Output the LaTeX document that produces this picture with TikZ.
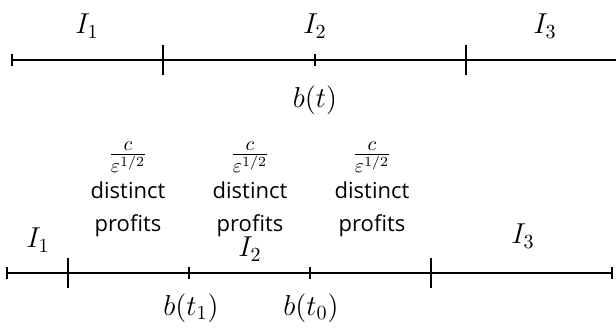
\documentclass[tikz,border=0pt]{standalone}
\usepackage{fontspec}
\newfontfamily\labelfont{Open Sans}
\begin{document}
\begin{tikzpicture}[x=0.5pt,y=-0.5pt,
  axis/.style={line width=1.2pt},
  mathlbl/.style={inner sep=0pt,font=\Large},
  wordlbl/.style={inner sep=0pt,font=\labelfont\fontsize{11}{13}\selectfont},
  fraclbl/.style={inner sep=0pt,font=\Large}]
\useasboundingbox (0,0) rectangle (616,328);
% ---------- top line ----------
\coordinate (ta) at (12,60);
\coordinate (tb) at (163,60);
\coordinate (tc) at (315,60);
\coordinate (td) at (466,60);
\coordinate (te) at (618,60);
\draw[axis] (ta) -- (te);
\draw[axis] ([yshift=3pt]ta) -- ([yshift=-3pt]ta);
\draw[axis] ([yshift=3pt]te) -- ([yshift=-3pt]te);
\draw[axis] ([yshift=7.5pt]tb) -- ([yshift=-7.5pt]tb);
\draw[axis] ([yshift=7.5pt]td) -- ([yshift=-7.5pt]td);
\draw[axis] ([yshift=3pt]tc) -- ([yshift=-3pt]tc);
\node[mathlbl] (tI1) at (87,26) {$I_1$};
\node[mathlbl] (tI2) at (315,26) {$I_2$};
\node[mathlbl] (tI3) at (545,26) {$I_3$};
\node[mathlbl] (bt) at (315,100) {$b(t)$};
% ---------- bottom line ----------
\coordinate (ba) at (7,273);
\coordinate (bb) at (68,273);
\coordinate (bc) at (189,273);
\coordinate (bd) at (310,273);
\coordinate (be) at (431,273);
\coordinate (bf) at (612,273);
\draw[axis] (ba) -- (bf);
\draw[axis] ([yshift=3pt]ba) -- ([yshift=-3pt]ba);
\draw[axis] ([yshift=3pt]bf) -- ([yshift=-3pt]bf);
\draw[axis] ([yshift=7.5pt]bb) -- ([yshift=-7.5pt]bb);
\draw[axis] ([yshift=7.5pt]be) -- ([yshift=-7.5pt]be);
\draw[axis] ([yshift=3pt]bc) -- ([yshift=-3pt]bc);
\draw[axis] ([yshift=3pt]bd) -- ([yshift=-3pt]bd);
\node[mathlbl] (bI1) at (38,240) {$I_1$};
\node[mathlbl] (bI2) at (250,249) {$I_2$};
\node[mathlbl] (bI3) at (523,236) {$I_3$};
\node[mathlbl] (bt1) at (191,308) {$b(t_1)$};
\node[mathlbl] (bt0) at (311,308) {$b(t_0)$};
% ---------- columns ----------
\foreach \n/\x in {a/128,b/250,c/372}{
  \node[fraclbl] (f\n) at (\x,157) {$\frac{c}{\varepsilon^{1/2}}$};
  \node[wordlbl] (d\n) at (\x,190) {distinct};
  \node[wordlbl] (p\n) at (\x,226) {profits};
}
\end{tikzpicture}
\end{document}
